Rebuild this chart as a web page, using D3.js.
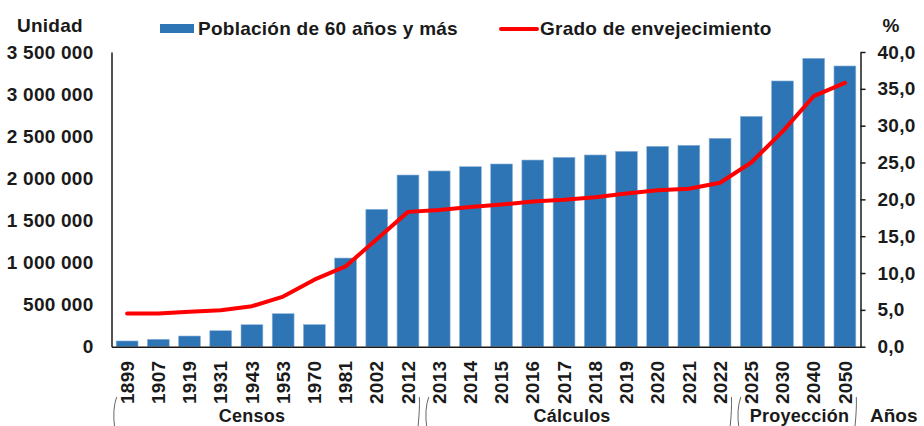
<!DOCTYPE html>
<html>
<head>
<meta charset="utf-8">
<script src="https://cdn.jsdelivr.net/npm/d3@7"></script>
<style>
  body { margin: 0; background: #fff; }
  svg text { font-family: "Liberation Sans", Arial, sans-serif; font-weight: bold; fill: #1a1a1a; letter-spacing: 0.25px; }
</style>
</head>
<body>
<div id="chart"></div>
<script>
const years = ['1899','1907','1919','1931','1943','1953','1970','1981','2002','2012',
  '2013','2014','2015','2016','2017','2018','2019','2020','2021','2022',
  '2025','2030','2040','2050'];
const poblacion60 = [68000, 88000, 127000, 190000, 261000, 392000, 263000, 1053000, 1632000, 2039000,
  2087000, 2138000, 2170000, 2217000, 2249000, 2277000, 2320000, 2380000, 2392000, 2475000,
  2736000, 3156000, 3425000, 3334000];
const gradoEnvejecimiento = [4.5, 4.5, 4.75, 4.95, 5.5, 6.8, 9.1, 10.9, 14.6, 18.3,
  18.55, 18.95, 19.3, 19.7, 19.95, 20.3, 20.8, 21.25, 21.45, 22.25,
  25.0, 29.2, 34.0, 35.8];
const leftTicks = [0, 500000, 1000000, 1500000, 2000000, 2500000, 3000000, 3500000];
const rightTicks = [0, 5, 10, 15, 20, 25, 30, 35, 40];
const grupos = [
  { label: 'Censos', from: '1899', to: '2012' },
  { label: 'Cálculos', from: '2013', to: '2022' },
  { label: 'Proyección', from: '2025', to: '2050' }
];
// horizontal nudge of each group label from the middle of its span
const grupoDx = [-15, -7, 2];

const width = 924, height = 426;
const margin = { left: 111.5, right: 63.5, top: 52, bottom: 79.3 };
const innerBottom = height - margin.bottom;

const loc = d3.formatLocale({ decimal: ',', thousands: ' ', grouping: [3], currency: ['', ''] });
const fmtLeft = loc.format(',');
const fmtRight = loc.format('.1f');

const svg = d3.select('#chart').append('svg')
  .attr('width', width)
  .attr('height', height);

const xScale = d3.scaleBand()
  .domain(years)
  .range([margin.left, width - margin.right])
  .paddingInner(0.3)
  .paddingOuter(0.15);

const yLeft = d3.scaleLinear()
  .domain([0, 3500000])
  .range([innerBottom, margin.top]);

const yRight = d3.scaleLinear()
  .domain([0, 40])
  .range([innerBottom, margin.top]);

// bars
svg.append('g')
  .selectAll('rect')
  .data(years)
  .enter()
  .append('rect')
  .attr('x', d => xScale(d))
  .attr('y', (d, i) => yLeft(poblacion60[i]))
  .attr('width', xScale.bandwidth())
  .attr('height', (d, i) => innerBottom - yLeft(poblacion60[i]))
  .attr('fill', '#2E75B6')
  .attr('stroke', '#8fb4da')
  .attr('stroke-width', 0.6);

// line
const line = d3.line()
  .x(d => xScale(d) + xScale.bandwidth() / 2)
  .y((d, i) => yRight(gradoEnvejecimiento[i]));

svg.append('path')
  .datum(years)
  .attr('d', line)
  .attr('fill', 'none')
  .attr('stroke', '#FF0000')
  .attr('stroke-width', 4)
  .attr('stroke-linejoin', 'round')
  .attr('stroke-linecap', 'round');

// axes
const yAxisLeft = d3.axisLeft(yLeft).tickValues(leftTicks).tickFormat(fmtLeft).tickSize(0).tickPadding(18);
const gl = svg.append('g')
  .attr('transform', `translate(${margin.left}, 0)`)
  .call(yAxisLeft);
gl.select('.domain').attr('stroke', '#1a1a1a').attr('stroke-width', 1.5);
gl.selectAll('text').style('font-size', '19px');

const yAxisRight = d3.axisRight(yRight).tickValues(rightTicks).tickFormat(fmtRight).tickSizeInner(5).tickSizeOuter(0).tickPadding(12);
const gr = svg.append('g')
  .attr('transform', `translate(${width - margin.right}, 0)`)
  .call(yAxisRight);
gr.select('.domain').attr('stroke', '#1a1a1a').attr('stroke-width', 1.5);
gr.selectAll('line').attr('stroke', '#1a1a1a').attr('stroke-width', 1.5);
gr.selectAll('text').style('font-size', '19px').attr('x', 17);

const xAxis = d3.axisBottom(xScale).tickSize(0).tickPadding(0);
const gx = svg.append('g')
  .attr('transform', `translate(0, ${innerBottom})`)
  .call(xAxis);
gx.select('.domain').attr('stroke', '#1a1a1a').attr('stroke-width', 1.5);
gx.selectAll('text')
  .style('font-size', '19px')
  .attr('text-anchor', 'end')
  .attr('y', 0)
  .attr('dy', '0.35em')
  .attr('transform', 'translate(0, 14) rotate(-90)');

// axis titles
svg.append('text').attr('x', 17).attr('y', 32).style('font-size', '19px').text('Unidad');
svg.append('text').attr('x', 891).attr('y', 32).attr('text-anchor', 'middle').style('font-size', '19px').text('%');
svg.append('text').attr('x', 870).attr('y', 422).style('font-size', '19px').style('letter-spacing', '0px').text('Años');

// group labels and brackets
const bw = xScale.bandwidth();
const gg = svg.append('g');
grupos.forEach((g, i) => {
  const xl = xScale(g.from) - 1.5;
  const xr = xScale(g.to) + bw + 0.5;
  gg.append('text')
    .attr('x', (xl + xr) / 2 + grupoDx[i])
    .attr('y', 422)
    .attr('text-anchor', 'middle')
    .style('font-size', '18px')
    .text(g.label);
  gg.append('path')
    .attr('d', `M${xl + 2},397 Q${xl - 2.5},409 ${xl},428`)
    .attr('fill', 'none').attr('stroke', '#555').attr('stroke-width', 0.9);
  gg.append('path')
    .attr('d', `M${xr},397 Q${xr + 0.5},409 ${xr - 1.5},428`)
    .attr('fill', 'none').attr('stroke', '#555').attr('stroke-width', 0.9);
});

// legend
const lg = svg.append('g');
lg.append('rect').attr('x', 160).attr('y', 24).attr('width', 34).attr('height', 9).attr('fill', '#2E75B6');
lg.append('text').attr('x', 198).attr('y', 35).style('font-size', '19px').text('Población de 60 años y más');
lg.append('line').attr('x1', 501).attr('x2', 537).attr('y1', 29).attr('y2', 29)
  .attr('stroke', '#FF0000').attr('stroke-width', 4).attr('stroke-linecap', 'round');
lg.append('text').attr('x', 540).attr('y', 35).style('font-size', '19px').text('Grado de envejecimiento');
</script>
</body>
</html>
